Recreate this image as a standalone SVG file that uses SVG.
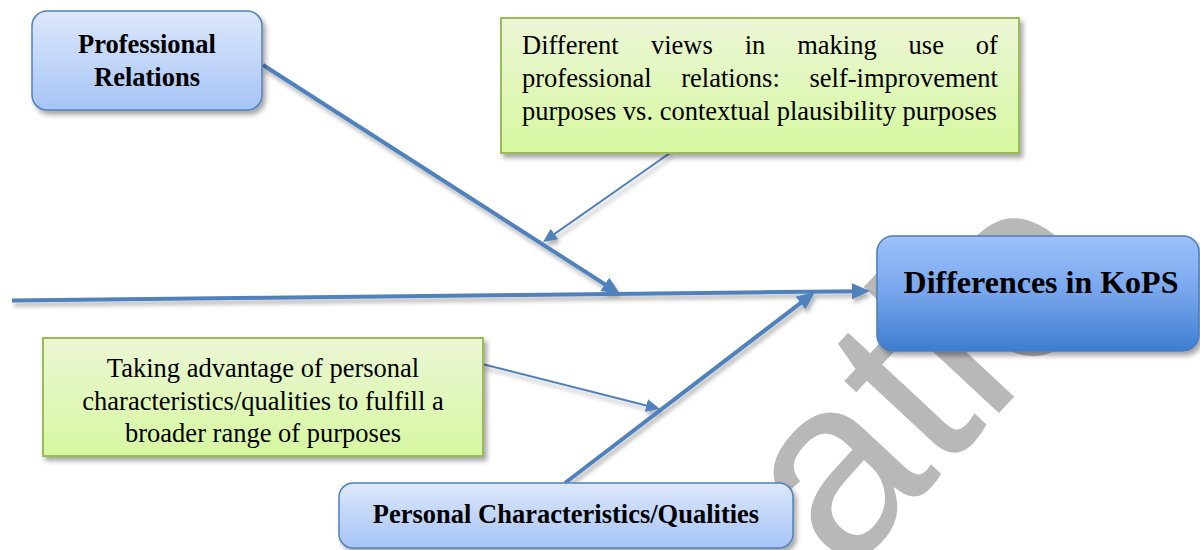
<svg xmlns="http://www.w3.org/2000/svg" width="1200" height="550" viewBox="0 0 1200 550">
<defs>
<linearGradient id="gBlueLight" x1="0" y1="0" x2="0" y2="1">
<stop offset="0" stop-color="#dde8fc"/>
<stop offset="1" stop-color="#a6c4f6"/>
</linearGradient>
<linearGradient id="gBlueDark" x1="0" y1="0" x2="0" y2="1">
<stop offset="0" stop-color="#9cc1fa"/>
<stop offset="0.45" stop-color="#7ba8ee"/>
<stop offset="1" stop-color="#3e7dcf"/>
</linearGradient>
<linearGradient id="gGreen" x1="0" y1="0" x2="0" y2="1">
<stop offset="0" stop-color="#ecf6d6"/>
<stop offset="1" stop-color="#d6f8a0"/>
</linearGradient>
<filter id="shadow" x="-10%" y="-10%" width="130%" height="140%">
<feDropShadow dx="3" dy="4" stdDeviation="2.5" flood-color="#000" flood-opacity="0.35"/>
</filter>
<filter id="lshadow" x="-5%" y="-20%" width="110%" height="160%">
<feDropShadow dx="2" dy="4" stdDeviation="2" flood-color="#000" flood-opacity="0.3"/>
</filter>
<marker id="ahBig" viewBox="0 0 18 16" markerWidth="18" markerHeight="16" refX="8" refY="8" orient="auto" markerUnits="userSpaceOnUse">
<path d="M0,0 L18,8 L0,16 z" fill="#4f81bd"/>
</marker>
<marker id="ahSmall" viewBox="0 0 14 13" markerWidth="14" markerHeight="13" refX="6" refY="6.5" orient="auto" markerUnits="userSpaceOnUse">
<path d="M0,0 L14,6.5 L0,13 z" fill="#4f81bd"/>
</marker>
</defs>
<style>
.nodeBlue{fill:url(#gBlueLight);stroke:#4f81bd;stroke-width:1.5;filter:url(#shadow)}
.nodeDark{fill:url(#gBlueDark);stroke:#4a7ebb;stroke-width:1.5;filter:url(#shadow)}
.nodeGreen{fill:url(#gGreen);stroke:#9bbb59;stroke-width:2;filter:url(#shadow)}
.bold{font-family:"Liberation Serif","Times New Roman",serif;font-weight:bold;fill:#000}
.reg{font-family:"Liberation Serif","Times New Roman",serif;font-size:26.5px;fill:#000}
.thick{stroke:#4f81bd;stroke-width:4;fill:none;marker-end:url(#ahBig)}
.thin{stroke:#4f81bd;stroke-width:2;fill:none;marker-end:url(#ahSmall)}
.wm{font-family:"Liberation Sans",Arial,sans-serif;font-size:255px;letter-spacing:-2px;fill:#b8b8b8}
</style>
<rect width="1200" height="550" fill="#ffffff"/>
<text class="wm" transform="translate(845,578) rotate(-47)">atio</text>
<g id="connectors" filter="url(#lshadow)">
<line class="thick" x1="12" y1="300.5" x2="860" y2="291.2"/>
<line class="thick" x1="263" y1="65" x2="611.6" y2="288.6"/>
<line class="thin" x1="670" y1="153" x2="549.6" y2="237.4"/>
<line class="thin" x1="482" y1="364" x2="652.2" y2="407"/>
<line class="thick" x1="565" y1="483" x2="807" y2="298.1"/>
</g>
<g id="professional-relations">
<rect class="nodeBlue" x="32" y="11" width="230" height="99" rx="15"/>
<text class="bold" font-size="26.5" text-anchor="middle" x="147" y="53">Professional</text>
<text class="bold" font-size="26.5" text-anchor="middle" x="147" y="86">Relations</text>
</g>
<g id="views-note">
<rect class="nodeGreen" x="501" y="18" width="518" height="135"/>
<text class="reg" y="54"><tspan x="522">Different</tspan><tspan x="651">views</tspan><tspan x="744.7">in</tspan><tspan x="797.2">making</tspan><tspan x="908.6">use</tspan><tspan x="975.8">of</tspan></text>
<text class="reg" y="87"><tspan x="522">professional</tspan><tspan x="681.2">relations:</tspan><tspan x="809.5">self-improvement</tspan></text>
<text class="reg" x="522" y="120">purposes vs. contextual plausibility purposes</text>
</g>
<g id="differences-kops">
<rect class="nodeDark" x="877" y="236" width="322" height="115" rx="16"/>
<text class="bold" font-size="32" text-anchor="middle" x="1041" y="293">Differences in KoPS</text>
</g>
<g id="advantage-note">
<rect class="nodeGreen" x="43" y="338" width="440" height="118"/>
<text class="reg" text-anchor="middle" x="263" y="377">Taking advantage of personal</text>
<text class="reg" text-anchor="middle" x="263" y="409.5">characteristics/qualities to fulfill a</text>
<text class="reg" text-anchor="middle" x="263" y="442">broader range of purposes</text>
</g>
<g id="personal-characteristics">
<rect class="nodeBlue" x="339" y="483" width="454" height="65" rx="14"/>
<text class="bold" font-size="26.5" text-anchor="middle" x="566" y="523">Personal Characteristics/Qualities</text>
</g>
</svg>
